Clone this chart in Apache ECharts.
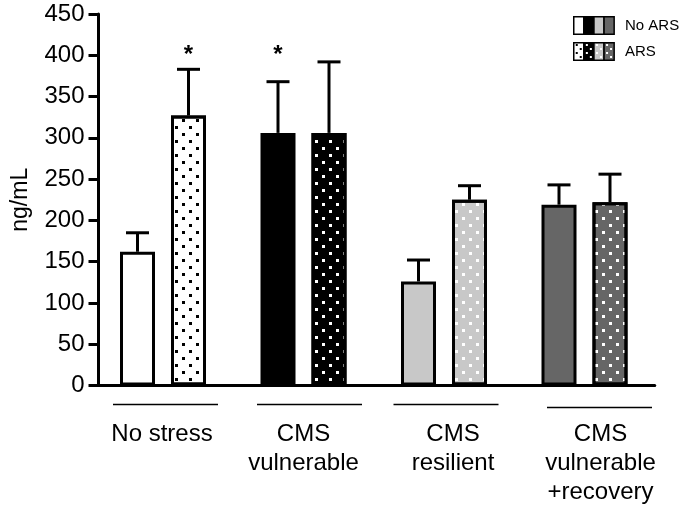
<!DOCTYPE html>
<html>
<head>
<meta charset="utf-8">
<script src="https://cdn.jsdelivr.net/npm/echarts@6/dist/echarts.min.js"></script>
<style>html,body{margin:0;padding:0;background:#fff}#c{width:685px;height:513px}</style>
</head>
<body>
<div id="c"></div>
<script>
// ---- data ----
const categories = ['No stress', 'CMS\nvulnerable', 'CMS\nresilient', 'CMS\nvulnerable\n+recovery'];
const noArsMean = [162, 306, 126, 219];
const noArsSem  = [23, 62, 26, 24];
const arsMean   = [327, 306, 225, 222];
const arsSem    = [56, 86, 17, 34];
const noArsStar = [false, true, false, false];
const arsStar   = [true, false, false, false];
const yMin = 0, yMax = 450, yInterval = 50;
const starLevel = 400;

// ---- styling ----
const FONT = "'Liberation Sans', Arial, Helvetica, sans-serif";
const fills = ['#ffffff', '#000000', '#c8c8c8', '#666666'];
const dotColors = ['#000000', '#ffffff', '#ffffff', '#ffffff'];
const BAR_W = 35, GAP_PX = 16, BORDER = 3;
const BAR_OFFSET = (BAR_W + GAP_PX) / 2;
const CAP = 23;
const GRID_TOP = 14, GRID_BOTTOM = 127.5;
const labelShift = [-1, 0, 9, 16];
const underlineShift = [2.5, 6, 2, 15];
const underlineDy = [19, 19, 19, 22];

function decal(color) {
  return { symbol: 'rect', symbolSize: 1, dashArrayX: [[3, 11], [0, 7, 3, 4]], dashArrayY: [3, 4], color: color, rotation: 0 };
}

function legendIcon(withDots) {
  let s = "<svg xmlns='http://www.w3.org/2000/svg' width='42' height='19' viewBox='0 0 42 19'>";
  for (let i = 0; i < 4; i++) {
    const x = 0.75 + i * 10.1;
    s += "<rect x='" + x + "' y='0.75' width='10.1' height='17.5' fill='" + fills[i] + "' stroke='#000' stroke-width='1.5'/>";
    if (withDots) {
      const pts = [[3, 3], [7, 7], [3, 11], [7, 15]];
      pts.forEach(p => { s += "<rect x='" + (x + p[0] - 1) + "' y='" + (p[1] - 1) + "' width='2' height='2' fill='" + dotColors[i] + "'/>"; });
    }
  }
  s += "</svg>";
  return 'image://data:image/svg+xml;charset=utf-8,' + encodeURIComponent(s);
}

function errRender(sign, stars) {
  return function (params, api) {
    const i = api.value(0), m = api.value(1), e = api.value(2);
    const c0 = api.coord([i, m]);
    const c1 = api.coord([i, m + e]);
    const x = c0[0] + sign * BAR_OFFSET;
    const st = { stroke: '#000', lineWidth: 3 };
    const children = [
      { type: 'line', shape: { x1: x, y1: c0[1], x2: x, y2: c1[1] }, style: st },
      { type: 'line', shape: { x1: x - CAP / 2, y1: c1[1], x2: x + CAP / 2, y2: c1[1] }, style: st }
    ];
    if (stars[i]) {
      const cs = api.coord([i, starLevel]);
      children.push({ type: 'text', style: { text: '*', x: x, y: cs[1], align: 'center', verticalAlign: 'middle', font: 'bold 24px ' + FONT, fill: '#000' } });
    }
    return { type: 'group', children: children };
  };
}

const chart = echarts.init(document.getElementById('c'), null, { renderer: 'canvas' });
chart.setOption({
  animation: false,
  backgroundColor: '#fff',
  textStyle: { fontFamily: FONT },
  legend: {
    orient: 'vertical', left: 573, top: 16, padding: 0, itemGap: 7, itemWidth: 42, itemHeight: 19,
    selectedMode: false,
    itemStyle: { borderWidth: 0 },
    textStyle: { fontSize: 15, color: '#000', fontFamily: FONT, padding: [0, 0, 0, 5] },
    data: [
      { name: 'No ARS', icon: legendIcon(false) },
      { name: 'ARS', icon: legendIcon(true) }
    ]
  },
  grid: [
    { left: 92.75, right: 30.25, top: GRID_TOP, bottom: GRID_BOTTOM },
    { left: 98.5, right: 30.25, top: GRID_TOP, bottom: GRID_BOTTOM }
  ],
  xAxis: [
    {
      type: 'category', gridIndex: 0,
      data: categories.map((c, i) => ({
        value: c,
        textStyle: labelShift[i] >= 0 ? { padding: [0, 0, 0, 2 * labelShift[i]] } : { padding: [0, -2 * labelShift[i], 0, 0] }
      })),
      axisLine: { show: false }, axisTick: { show: false },
      axisLabel: { fontSize: 24, lineHeight: 29, color: '#000', margin: 34, interval: 0, fontFamily: FONT }
    },
    {
      type: 'value', gridIndex: 1, min: 0, max: 1,
      axisLine: { show: true, lineStyle: { color: '#000', width: 3 } },
      axisTick: { show: false }, axisLabel: { show: false }, splitLine: { show: false }
    }
  ],
  yAxis: [
    { type: 'value', gridIndex: 0, min: yMin, max: yMax, interval: yInterval, show: false },
    {
      type: 'value', gridIndex: 1, min: yMin, max: yMax, interval: yInterval,
      name: 'ng/mL', nameLocation: 'middle', nameRotate: 90, nameGap: 66,
      nameTextStyle: { fontSize: 23, color: '#000', fontFamily: FONT },
      axisLine: { show: true, lineStyle: { color: '#000', width: 3 } },
      axisTick: { show: true, length: 10, lineStyle: { color: '#000', width: 3 } },
      axisLabel: { fontSize: 24, color: '#000', margin: 14, fontFamily: FONT },
      splitLine: { show: false }
    }
  ],
  series: [
    {
      name: 'No ARS', type: 'bar', xAxisIndex: 0, yAxisIndex: 0,
      barWidth: BAR_W, barGap: (GAP_PX / BAR_W * 100) + '%',
      itemStyle: { borderColor: '#000', borderWidth: BORDER, color: '#fff' },
      data: noArsMean.map((v, i) => ({ value: v, itemStyle: { color: fills[i] } }))
    },
    {
      name: 'ARS', type: 'bar', xAxisIndex: 0, yAxisIndex: 0,
      barWidth: BAR_W, barGap: (GAP_PX / BAR_W * 100) + '%',
      itemStyle: { borderColor: '#000', borderWidth: BORDER, color: '#fff' },
      data: arsMean.map((v, i) => ({ value: v, itemStyle: { color: fills[i], decal: decal(dotColors[i]) } }))
    },
    {
      name: 'errNoARS', type: 'custom', xAxisIndex: 0, yAxisIndex: 0, clip: false, z: 5,
      renderItem: errRender(-1, noArsStar),
      encode: { x: 0, y: 1 },
      data: noArsMean.map((m, i) => [i, m, noArsSem[i]])
    },
    {
      name: 'errARS', type: 'custom', xAxisIndex: 0, yAxisIndex: 0, clip: false, z: 5,
      renderItem: errRender(1, arsStar),
      encode: { x: 0, y: 1 },
      data: arsMean.map((m, i) => [i, m, arsSem[i]])
    },
    {
      name: 'underlines', type: 'custom', xAxisIndex: 0, yAxisIndex: 0, clip: false, silent: true,
      renderItem: function (params, api) {
        const i = api.value(0);
        const c = api.coord([i, 0]);
        const cx = c[0] + underlineShift[i], y = c[1] + underlineDy[i];
        return { type: 'line', shape: { x1: cx - 52.5, y1: y, x2: cx + 52.5, y2: y }, style: { stroke: '#000', lineWidth: 1.6 } };
      },
      encode: { x: 0, y: 1 },
      data: categories.map((c, i) => [i, 0])
    }
  ]
});
</script>
</body>
</html>
